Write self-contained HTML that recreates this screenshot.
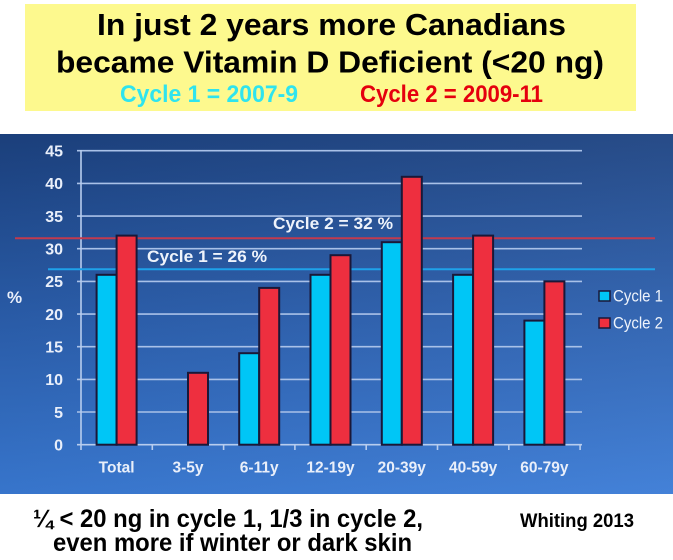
<!DOCTYPE html>
<html><head><meta charset="utf-8"><style>
html,body{margin:0;padding:0;background:#fff;}
svg{display:block;}
</style></head><body>
<svg width="673" height="560" viewBox="0 0 673 560" xmlns="http://www.w3.org/2000/svg" font-family="Liberation Sans, Arial, sans-serif">
<defs>
<linearGradient id="bg" x1="0" y1="0" x2="0" y2="1">
<stop offset="0" stop-color="#1c4281"/>
<stop offset="0.5" stop-color="#2b5fae"/>
<stop offset="1" stop-color="#3a7bd6"/>
</linearGradient>
<linearGradient id="bg2" x1="0" y1="0" x2="1" y2="0">
<stop offset="0" stop-color="#000" stop-opacity="0.05"/>
<stop offset="1" stop-color="#fff" stop-opacity="0.05"/>
</linearGradient>
</defs>
<rect x="0" y="0" width="673" height="560" fill="#fff"/>
<!-- title box -->
<rect x="25" y="4" width="611" height="107" fill="#fdf98e"/>
<text x="331.5" y="35" font-size="31" font-weight="bold" text-anchor="middle" fill="#000" textLength="469" lengthAdjust="spacingAndGlyphs">In just 2 years more Canadians</text>
<text x="330" y="72.5" font-size="31" font-weight="bold" text-anchor="middle" fill="#000" textLength="548" lengthAdjust="spacingAndGlyphs">became Vitamin D Deficient (&lt;20 ng)</text>
<text x="120" y="102" font-size="24" font-weight="bold" fill="#2fe4ee" textLength="178" lengthAdjust="spacingAndGlyphs">Cycle 1 = 2007-9</text>
<text x="360" y="102" font-size="24" font-weight="bold" fill="#e5000e" textLength="183" lengthAdjust="spacingAndGlyphs">Cycle 2 = 2009-11</text>

<!-- chart panel -->
<rect x="0" y="134" width="673" height="360" fill="url(#bg)"/>
<rect x="0" y="134" width="673" height="360" fill="url(#bg2)"/>

<!-- gridlines -->
<g stroke="#a9c1e8" stroke-width="1.6">
<line x1="77" y1="412.0" x2="582" y2="412.0"/>
<line x1="77" y1="379.4" x2="582" y2="379.4"/>
<line x1="77" y1="346.7" x2="582" y2="346.7"/>
<line x1="77" y1="314.1" x2="582" y2="314.1"/>
<line x1="77" y1="281.4" x2="582" y2="281.4"/>
<line x1="77" y1="248.7" x2="582" y2="248.7"/>
<line x1="77" y1="216.1" x2="582" y2="216.1"/>
<line x1="77" y1="183.4" x2="582" y2="183.4"/>
<line x1="77" y1="150.7" x2="582" y2="150.7"/>
</g>
<!-- axes -->
<g stroke="#b8cdee" stroke-width="1.6">
<line x1="81" y1="150" x2="81" y2="450"/>
<line x1="77" y1="444.7" x2="582" y2="444.7"/>
<line x1="152.3" y1="444.7" x2="152.3" y2="450"/>
<line x1="223.6" y1="444.7" x2="223.6" y2="450"/>
<line x1="294.9" y1="444.7" x2="294.9" y2="450"/>
<line x1="366.2" y1="444.7" x2="366.2" y2="450"/>
<line x1="437.5" y1="444.7" x2="437.5" y2="450"/>
<line x1="508.8" y1="444.7" x2="508.8" y2="450"/>
<line x1="580.1" y1="444.7" x2="580.1" y2="450"/>
</g>

<!-- reference lines -->
<line x1="15" y1="238.3" x2="655" y2="238.3" stroke="#c23a4e" stroke-width="2"/>
<line x1="48" y1="269.3" x2="655" y2="269.3" stroke="#1ea2ea" stroke-width="2"/>

<!-- bars -->
<g stroke="#1a1838" stroke-width="2">
<rect x="96.6" y="274.8" width="20" height="169.9" fill="#00c6f6"/>
<rect x="116.6" y="235.6" width="20" height="209.1" fill="#ee2f3f"/>

<rect x="188" y="372.8" width="20" height="71.9" fill="#ee2f3f"/>

<rect x="239.2" y="353.2" width="20" height="91.5" fill="#00c6f6"/>
<rect x="259.2" y="287.9" width="20" height="156.8" fill="#ee2f3f"/>

<rect x="310.5" y="274.8" width="20" height="169.9" fill="#00c6f6"/>
<rect x="330.5" y="255.2" width="20" height="189.5" fill="#ee2f3f"/>

<rect x="381.8" y="242.2" width="20" height="202.5" fill="#00c6f6"/>
<rect x="401.8" y="176.8" width="20" height="267.9" fill="#ee2f3f"/>

<rect x="453.1" y="274.8" width="20" height="169.9" fill="#00c6f6"/>
<rect x="473.1" y="235.6" width="20" height="209.1" fill="#ee2f3f"/>

<rect x="524.4" y="320.6" width="20" height="124.1" fill="#00c6f6"/>
<rect x="544.4" y="281.4" width="20" height="163.3" fill="#ee2f3f"/>
</g>

<!-- y labels -->
<g fill="#e9effa" font-size="16" font-weight="bold" text-anchor="end">
<text x="63" y="450.5">0</text>
<text x="63" y="417.8">5</text>
<text x="63" y="385.2">10</text>
<text x="63" y="352.5">15</text>
<text x="63" y="319.9">20</text>
<text x="63" y="287.2">25</text>
<text x="63" y="254.5">30</text>
<text x="63" y="221.9">35</text>
<text x="63" y="189.2">40</text>
<text x="63" y="156.5">45</text>
</g>
<text x="7" y="303" font-size="17" font-weight="bold" fill="#e9effa">%</text>

<!-- x labels -->
<g fill="#e9effa" font-size="15.5" font-weight="bold" text-anchor="middle">
<text x="116.6" y="472.5">Total</text>
<text x="188" y="472.5">3-5y</text>
<text x="259.2" y="472.5">6-11y</text>
<text x="330.5" y="472.5">12-19y</text>
<text x="401.8" y="472.5">20-39y</text>
<text x="473.1" y="472.5">40-59y</text>
<text x="544.4" y="472.5">60-79y</text>
</g>

<!-- ref labels -->
<text x="273" y="229" font-size="17" font-weight="bold" fill="#eef3fb" textLength="120" lengthAdjust="spacingAndGlyphs">Cycle 2 = 32 %</text>
<text x="147" y="262" font-size="17" font-weight="bold" fill="#eef3fb" textLength="120" lengthAdjust="spacingAndGlyphs">Cycle 1 = 26 %</text>

<!-- legend -->
<rect x="599" y="291" width="11" height="10" fill="#00c6f6" stroke="#1a1838" stroke-width="1.5"/>
<text x="613" y="301.5" font-size="17" fill="#eef3fb" textLength="50" lengthAdjust="spacingAndGlyphs">Cycle 1</text>
<rect x="599" y="318" width="11" height="10" fill="#ee2f3f" stroke="#1a1838" stroke-width="1.5"/>
<text x="613" y="328.5" font-size="17" fill="#eef3fb" textLength="50" lengthAdjust="spacingAndGlyphs">Cycle 2</text>

<!-- bottom text -->
<text x="33" y="527" font-size="25" font-weight="bold" fill="#000" textLength="390" lengthAdjust="spacingAndGlyphs">¼ &lt; 20 ng in cycle 1, 1/3 in cycle 2,</text>
<text x="53" y="551" font-size="25" font-weight="bold" fill="#000" textLength="359" lengthAdjust="spacingAndGlyphs">even more if winter or dark skin</text>
<text x="520" y="527" font-size="19" font-weight="bold" fill="#000" textLength="114" lengthAdjust="spacingAndGlyphs">Whiting 2013</text>
</svg>
</body></html>
